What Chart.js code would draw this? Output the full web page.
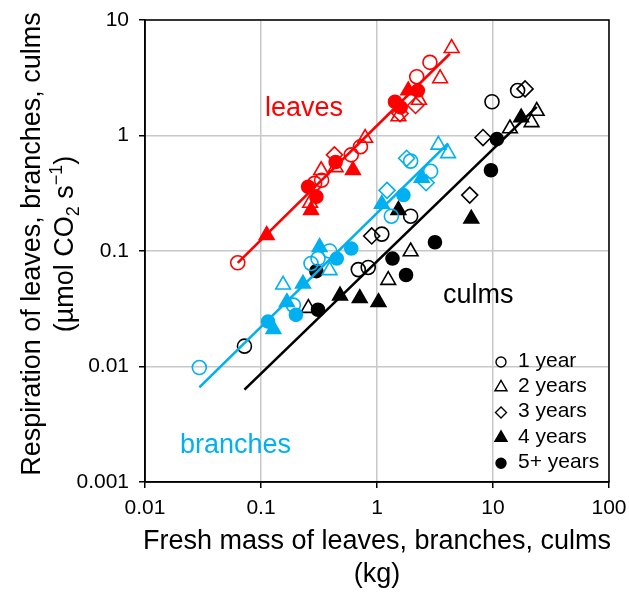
<!DOCTYPE html>
<html>
<head>
<meta charset="utf-8">
<script src="https://cdn.jsdelivr.net/npm/chart.js@4.4.1/dist/chart.umd.min.js"></script>
<style>
  html, body { margin: 0; padding: 0; background: #fff; }
  #wrap { width: 629px; height: 593px; position: relative; }
</style>
</head>
<body>
<div id="wrap"><canvas id="chart"></canvas></div>
<script>
// axis ticks
const xTicks = [0.01, 0.1, 1, 10, 100];
const xTickLabels = ["0.01", "0.1", "1", "10", "100"];
const yTicks = [0.001, 0.01, 0.1, 1, 10];
const yTickLabels = ["0.001", "0.01", "0.1", "1", "10"];

const ageLabels = ["1 year", "2 years", "3 years", "4 years", "5+ years"];

// points are [fresh mass (kg), respiration (umol CO2 s-1)]
const leaves1 = [[0.063, 0.079], [0.29, 0.385], [0.333, 0.41], [0.6, 0.68], [0.72, 0.8], [2.2, 3.23], [2.86, 4.3]];
const leaves2 = [[0.265, 0.26], [0.33, 0.5], [0.44, 0.53], [0.79, 0.95], [1.53, 1.46], [2.3, 2.03], [3.5, 3.12], [4.4, 5.7]];
const leaves3 = [[0.43, 0.68], [1.58, 1.55], [2.15, 1.82]];
const leaves4 = [[0.112, 0.137], [0.27, 0.226], [0.62, 0.5], [1.86, 2.45]];
const leaves5 = [[0.255, 0.36], [0.3, 0.295], [0.44, 0.59], [1.43, 1.96], [1.6, 1.75], [2.25, 2.45]];

const branches1 = [[0.0294, 0.0098], [0.19, 0.034], [0.27, 0.078], [0.31, 0.086], [0.39, 0.1], [1.33, 0.2], [1.95, 0.6], [2.9, 0.49]];
const branches2 = [[0.155, 0.051], [0.39, 0.068], [3.38, 0.83], [4.1, 0.7]];
const branches3 = [[1.22, 0.335], [1.8, 0.635], [2.65, 0.39]];
const branches4 = [[0.128, 0.021], [0.167, 0.036], [0.23, 0.052], [0.32, 0.108], [1.1, 0.255], [2.43, 0.43]];
const branches5 = [[0.115, 0.0245], [0.2, 0.028], [0.45, 0.086], [0.6, 0.105], [1.69, 0.305]];

const culms1 = [[0.072, 0.015], [0.69, 0.069], [0.84, 0.072], [1.1, 0.14], [1.95, 0.2], [9.8, 1.96], [16.3, 2.45]];
const culms2 = [[0.256, 0.032], [1.25, 0.056], [1.95, 0.099], [14, 1.15], [21.5, 1.3], [23.8, 1.63]];
const culms3 = [[0.9, 0.135], [6.3, 0.305], [8.2, 0.96], [18.9, 2.53]];
const culms4 = [[0.48, 0.041], [0.71, 0.039], [1.03, 0.036], [1.53, 0.226], [6.5, 0.19], [17.5, 1.43]];
const culms5 = [[0.3, 0.067], [0.31, 0.031], [1.36, 0.086], [1.78, 0.062], [3.16, 0.119], [9.6, 0.5], [10.8, 0.93]];

// fitted lines, end points
const leavesFitX = [0.063, 4.25];
const leavesFitY = [0.079, 5.1];
const branchesFitX = [0.0294, 4.1];
const branchesFitY = [0.0066, 0.855];
const culmsFitX = [0.072, 23.8];
const culmsFitY = [0.0063, 1.77];

const FONT = '"Liberation Sans", Arial, sans-serif';
const RED = "#ff0000", BLUE = "#00b0f0", BLACK = "#000000";

const ageStyles = [
  { pointStyle: "circle", filled: false, radius: 7, legendRadius: 5 },
  { pointStyle: "triangle", filled: false, radius: 8.5, legendRadius: 7 },
  { pointStyle: "rectRot", filled: false, radius: 8, legendRadius: 5.5 },
  { pointStyle: "triangle", filled: true, radius: 8.5, legendRadius: 7 },
  { pointStyle: "circle", filled: true, radius: 6.5, legendRadius: 5 },
];

const groups = [
  { color: RED, ages: [leaves1, leaves2, leaves3, leaves4, leaves5], fx: leavesFitX, fy: leavesFitY },
  { color: BLUE, ages: [branches1, branches2, branches3, branches4, branches5], fx: branchesFitX, fy: branchesFitY },
  { color: BLACK, ages: [culms1, culms2, culms3, culms4, culms5], fx: culmsFitX, fy: culmsFitY },
];

// group names, placed at data coordinates (left/baseline)
const groupLabels = [
  { text: "leaves", color: RED, x: 0.108, y: 1.47 },
  { text: "branches", color: BLUE, x: 0.02, y: 0.0018 },
  { text: "culms", color: BLACK, x: 3.7, y: 0.0355 },
];

const datasets = [];
groups.forEach(g => {
  datasets.push({
    data: g.fx.map((x, i) => ({ x, y: g.fy[i] })),
    showLine: true,
    borderColor: g.color,
    borderWidth: 2.6,
    pointRadius: 0,
    order: 0,
  });
  g.ages.forEach((pts, i) => {
    const st = ageStyles[i];
    datasets.push({
      data: pts.map(p => ({ x: p[0], y: p[1] })),
      pointStyle: st.pointStyle,
      pointRadius: st.radius,
      pointBorderWidth: 1.6,
      borderColor: g.color,
      backgroundColor: st.filled ? g.color : "rgba(0,0,0,0)",
      order: 1,
    });
  });
});

const decor = {
  id: "decor",
  afterDraw(chart) {
    const { ctx, chartArea: a, scales: { x, y } } = chart;
    ctx.save();
    ctx.strokeStyle = "#000";
    ctx.lineWidth = 1.5;
    ctx.strokeRect(a.left, a.top, a.right - a.left, a.bottom - a.top);

    ctx.font = "27px " + FONT;
    ctx.textAlign = "left";
    ctx.textBaseline = "alphabetic";
    groupLabels.forEach(g => {
      ctx.fillStyle = g.color;
      ctx.fillText(g.text, x.getPixelForValue(g.x), y.getPixelForValue(g.y));
    });

    // legend
    ctx.font = "21px " + FONT;
    ctx.textBaseline = "middle";
    ageLabels.forEach((lab, i) => {
      const st = ageStyles[i];
      const cy = a.top + 341 + i * 25.3;
      const cx = a.left + 356;
      ctx.strokeStyle = "#000";
      ctx.fillStyle = st.filled ? "#000" : "rgba(0,0,0,0)";
      ctx.lineWidth = 1.4;
      Chart.helpers.drawPoint(ctx, { pointStyle: st.pointStyle, radius: st.legendRadius, rotation: 0, borderWidth: 1.4 }, cx, cy + 1);
      ctx.fillStyle = "#000";
      ctx.fillText(lab, a.left + 373, cy);
    });

    // x title
    ctx.textAlign = "center";
    ctx.textBaseline = "alphabetic";
    ctx.font = "27px " + FONT;
    const mx = (a.left + a.right) / 2;
    ctx.fillText("Fresh mass of leaves, branches, culms", mx, 549);
    ctx.fillText("(kg)", mx, 582);

    // y title, rotated
    const my = 244;
    ctx.save();
    ctx.translate(40, my);
    ctx.rotate(-Math.PI / 2);
    ctx.fillText("Respiration of leaves, branches, culms", 0, 0);
    ctx.restore();

    const segs = [
      { t: "(\u00b5mol CO", size: 27, dy: 0 },
      { t: "2", size: 18, dy: 6 },
      { t: " s", size: 27, dy: 0 },
      { t: "\u22121", size: 18, dy: -11 },
      { t: ")", size: 27, dy: 0 },
    ];
    let total = 0;
    segs.forEach(s => { ctx.font = s.size + "px " + FONT; s.w = ctx.measureText(s.t).width; total += s.w; });
    ctx.save();
    ctx.translate(73, my);
    ctx.rotate(-Math.PI / 2);
    ctx.textAlign = "left";
    let px = -total / 2;
    segs.forEach(s => {
      ctx.font = s.size + "px " + FONT;
      ctx.fillText(s.t, px, s.dy);
      px += s.w;
    });
    ctx.restore();
    ctx.restore();
  },
};

const axisCommon = {
  type: "logarithmic",
  grid: { color: "#c8c8c8", lineWidth: 1.5, tickLength: 6, tickColor: "#000" },
  border: { color: "#000", width: 1.5 },
  title: { display: false },
};

new Chart(document.getElementById("chart"), {
  type: "scatter",
  data: { datasets },
  options: {
    responsive: true,
    maintainAspectRatio: false,
    animation: false,
    layout: { padding: { left: 0, right: 20, top: 20, bottom: 0 } },
    plugins: { legend: { display: false }, tooltip: { enabled: false } },
    scales: {
      x: {
        ...axisCommon,
        min: 0.01,
        max: 100,
        afterBuildTicks: s => { s.ticks = xTicks.map(v => ({ value: v })); },
        afterFit: s => { s.height = 111; s.paddingLeft = 0; s.paddingRight = 0; },
        ticks: {
          callback: (v, i) => xTickLabels[i],
          font: { family: FONT, size: 21 },
          color: "#000",
          padding: 8,
          maxRotation: 0,
          autoSkip: false,
        },
      },
      y: {
        ...axisCommon,
        min: 0.001,
        max: 10,
        afterBuildTicks: s => { s.ticks = yTicks.map(v => ({ value: v })); },
        afterFit: s => { s.width = 145; s.paddingTop = 0; s.paddingBottom = 0; },
        ticks: {
          callback: (v, i) => yTickLabels[i],
          font: { family: FONT, size: 21 },
          color: "#000",
          padding: 10,
          autoSkip: false,
        },
      },
    },
  },
  plugins: [decor],
});
</script>
</body>
</html>
